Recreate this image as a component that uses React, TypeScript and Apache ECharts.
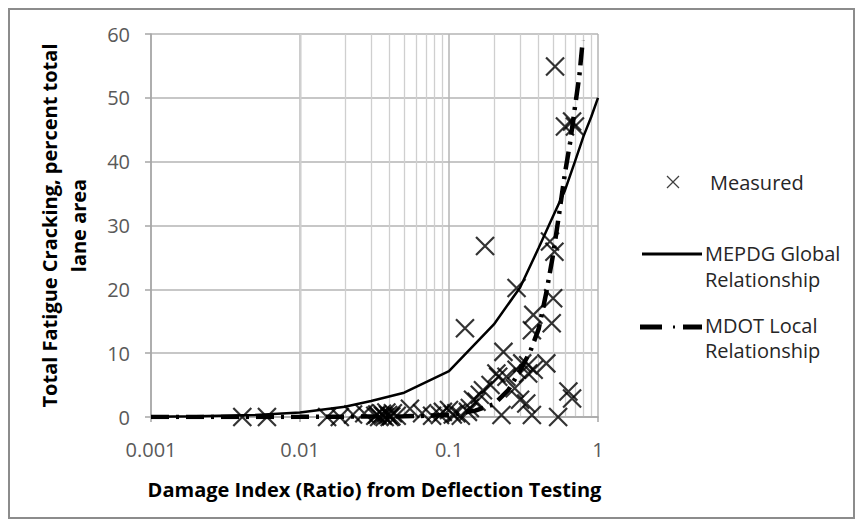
import React, { useEffect, useRef } from "react";
import * as echarts from "echarts";

// ---- data ----
const X_TICK_LABELS = ["0.001", "0.01", "0.1", "1"];
const MINOR_GRID_X = [
  0.002, 0.003, 0.004, 0.005, 0.006, 0.007, 0.008, 0.009,
  0.02, 0.03, 0.04, 0.05, 0.06, 0.07, 0.08, 0.09,
  0.2, 0.3, 0.4, 0.5, 0.6, 0.7, 0.8, 0.9,
];

const MEASURED_X = [
  0.0041, 0.006, 0.0152, 0.0185, 0.0227, 0.027, 0.032, 0.033, 0.034, 0.0355,
  0.036, 0.037, 0.038, 0.039, 0.04, 0.041, 0.042, 0.0446, 0.0547, 0.066,
  0.077, 0.087, 0.091, 0.1, 0.106, 0.112, 0.12, 0.128, 0.134, 0.138,
  0.145, 0.153, 0.161, 0.169, 0.1745, 0.19, 0.208, 0.214, 0.225, 0.232,
  0.243, 0.276, 0.284, 0.284, 0.3, 0.31, 0.33, 0.34, 0.34, 0.36,
  0.36, 0.368, 0.37, 0.45, 0.476, 0.489, 0.5, 0.51, 0.515, 0.54,
  0.6, 0.633, 0.67, 0.67, 0.7,
];
const MEASURED_Y = [
  0, 0, 0, 0, 0.4, 0.6, 0.2, 0.4, 0, 0.5,
  0.2, 0, 0.7, 0.3, 0, 0.1, 0.6, 0.2, 1.3, 0.6,
  0.2, 0.3, 0.8, 1.1, 0.4, 0.6, 0.2, 13.9, 0.8, 1.4,
  2.7, 2.4, 3.5, 4.2, 26.8, 5.0, 6.8, 6.3, 0.3, 10.2,
  6.3, 4.5, 20.2, 7.4, 2.7, 8.4, 2.1, 6.8, 8.1, 13.6,
  0.3, 16.0, 7.4, 8.4, 27.5, 14.7, 18.6, 25.9, 54.9, 0,
  45.5, 4.0, 46.3, 2.9, 45.5,
];

const MEPDG_X = [0.001, 0.002, 0.005, 0.01, 0.02, 0.03, 0.05, 0.1, 0.2, 0.3, 0.4, 0.5, 0.6, 0.7, 0.8, 0.9, 1];
const MEPDG_Y = [0.05, 0.1, 0.3, 0.7, 1.6, 2.5, 3.8, 7.2, 14.5, 20.3, 26.5, 31.5, 35.5, 40, 44, 47, 50];

const MDOT_X = [0.001, 0.01, 0.05, 0.1, 0.15, 0.2, 0.25, 0.3, 0.35, 0.4, 0.45, 0.5, 0.55, 0.6, 0.65, 0.7, 0.75, 0.79];
const MDOT_Y = [0, 0.02, 0.1, 0.3, 1.0, 2.0, 4.2, 7.3, 10.2, 13.8, 19.5, 25.5, 32, 38.2, 43, 48.5, 53.5, 59];

const FONT = "'Open Sans', sans-serif";
const W = 847;
const H = 511;

export default function App() {
  const ref = useRef<HTMLDivElement>(null);

  useEffect(() => {
    if (!ref.current) return;
    const chart = echarts.init(ref.current, undefined, { renderer: "svg" });

    const zip = (xs: number[], ys: number[]) => xs.map((x, i) => [x, ys[i]]);
    const legendText = (text: string, x: number, y: number, lh: number) => ({
      type: "text",
      x,
      y,
      style: {
        text,
        font: `20px ${FONT}`,
        fill: "#262626",
        textVerticalAlign: "top",
        textAlign: "left",
        lineHeight: lh,
      },
    });

    const option: any = {
      animation: false,
      backgroundColor: "#ffffff",
      grid: { left: 143, top: 26, right: W - 590, bottom: H - 409, containLabel: false },
      xAxis: {
        type: "log",
        logBase: 10,
        min: 0.001,
        max: 1,
        name: "Damage Index (Ratio) from Deflection Testing",
        nameLocation: "middle",
        nameGap: 62,
        nameTextStyle: { fontFamily: FONT, fontSize: 20, fontWeight: "bold", color: "#000" },
        axisLine: { show: true, lineStyle: { color: "#a6a6a6", width: 1.5 } },
        axisTick: { show: true, length: 5, lineStyle: { color: "#a6a6a6", width: 1.5 } },
        axisLabel: {
          fontFamily: FONT,
          fontSize: 20,
          color: "#595959",
          margin: 22,
          formatter: (v: number) => X_TICK_LABELS[Math.round(Math.log10(v)) + 3] ?? "",
        },
        splitLine: { show: true, lineStyle: { color: "#b4b4b4", width: 1.5 } },
        minorTick: { show: false },
        minorSplitLine: { show: false },
      },
      yAxis: {
        type: "value",
        min: 0,
        max: 60,
        interval: 10,
        name: "Total Fatigue Cracking, percent total\nlane area",
        nameLocation: "middle",
        nameRotate: 90,
        nameGap: 58,
        nameTextStyle: { fontFamily: FONT, fontSize: 20, fontWeight: "bold", color: "#000", lineHeight: 29 },
        axisLine: { show: true, lineStyle: { color: "#a6a6a6", width: 1.5 } },
        axisTick: { show: true, length: 6, lineStyle: { color: "#a6a6a6", width: 1.5 } },
        axisLabel: { fontFamily: FONT, fontSize: 20, color: "#595959", margin: 21 },
        splitLine: { show: true, lineStyle: { color: "#b4b4b4", width: 1.5 } },
      },
      series: [
        {
          name: "Measured",
          type: "scatter",
          data: zip(MEASURED_X, MEASURED_Y),
          symbol: "path://M0,0L10,10M10,0L0,10",
          symbolSize: 18,
          itemStyle: { color: "transparent", borderColor: "#000", borderWidth: 2.2 },
          markLine: {
            silent: true,
            symbol: ["none", "none"],
            label: { show: false },
            lineStyle: { color: "#cfcfcf", width: 1.3, type: "solid" },
            data: MINOR_GRID_X.map((v) => ({ xAxis: v })),
            z: 0,
          },
          z: 3,
        },
        {
          name: "MEPDG Global Relationship",
          type: "line",
          data: zip(MEPDG_X, MEPDG_Y),
          symbol: "none",
          lineStyle: { color: "#000", width: 2.5 },
          z: 4,
        },
        {
          name: "MDOT Local Relationship",
          type: "line",
          data: zip(MDOT_X, MDOT_Y),
          symbol: "none",
          lineStyle: { color: "#000", width: 4.5, type: [18, 7, 3, 7], cap: "butt" },
          z: 5,
        },
      ],
      graphic: [
        {
          type: "rect",
          shape: { x: 1, y: 1, width: W - 2, height: H - 2 },
          style: { fill: "none", stroke: "#8c8c8c", lineWidth: 2 },
          silent: true,
        },
        // legend: Measured
        { type: "line", shape: { x1: 659, y1: 168, x2: 671, y2: 180 }, style: { stroke: "#404040", lineWidth: 1.3 } },
        { type: "line", shape: { x1: 671, y1: 168, x2: 659, y2: 180 }, style: { stroke: "#404040", lineWidth: 1.3 } },
        legendText("Measured", 702, 161, 26),
        // legend: MEPDG
        { type: "line", shape: { x1: 634, y1: 246, x2: 694, y2: 246 }, style: { stroke: "#000", lineWidth: 3 } },
        legendText("MEPDG Global\nRelationship", 697, 232, 26),
        // legend: MDOT
        { type: "line", shape: { x1: 632, y1: 319, x2: 654, y2: 319 }, style: { stroke: "#000", lineWidth: 5 } },
        { type: "line", shape: { x1: 665, y1: 319, x2: 667, y2: 319 }, style: { stroke: "#000", lineWidth: 3 } },
        { type: "line", shape: { x1: 675, y1: 319, x2: 694, y2: 319 }, style: { stroke: "#000", lineWidth: 5 } },
        legendText("MDOT Local\nRelationship", 697, 305, 25),
      ],
    };

    chart.setOption(option);
    return () => chart.dispose();
  }, []);

  return <div ref={ref} style={{ width: W, height: H }} />;
}
